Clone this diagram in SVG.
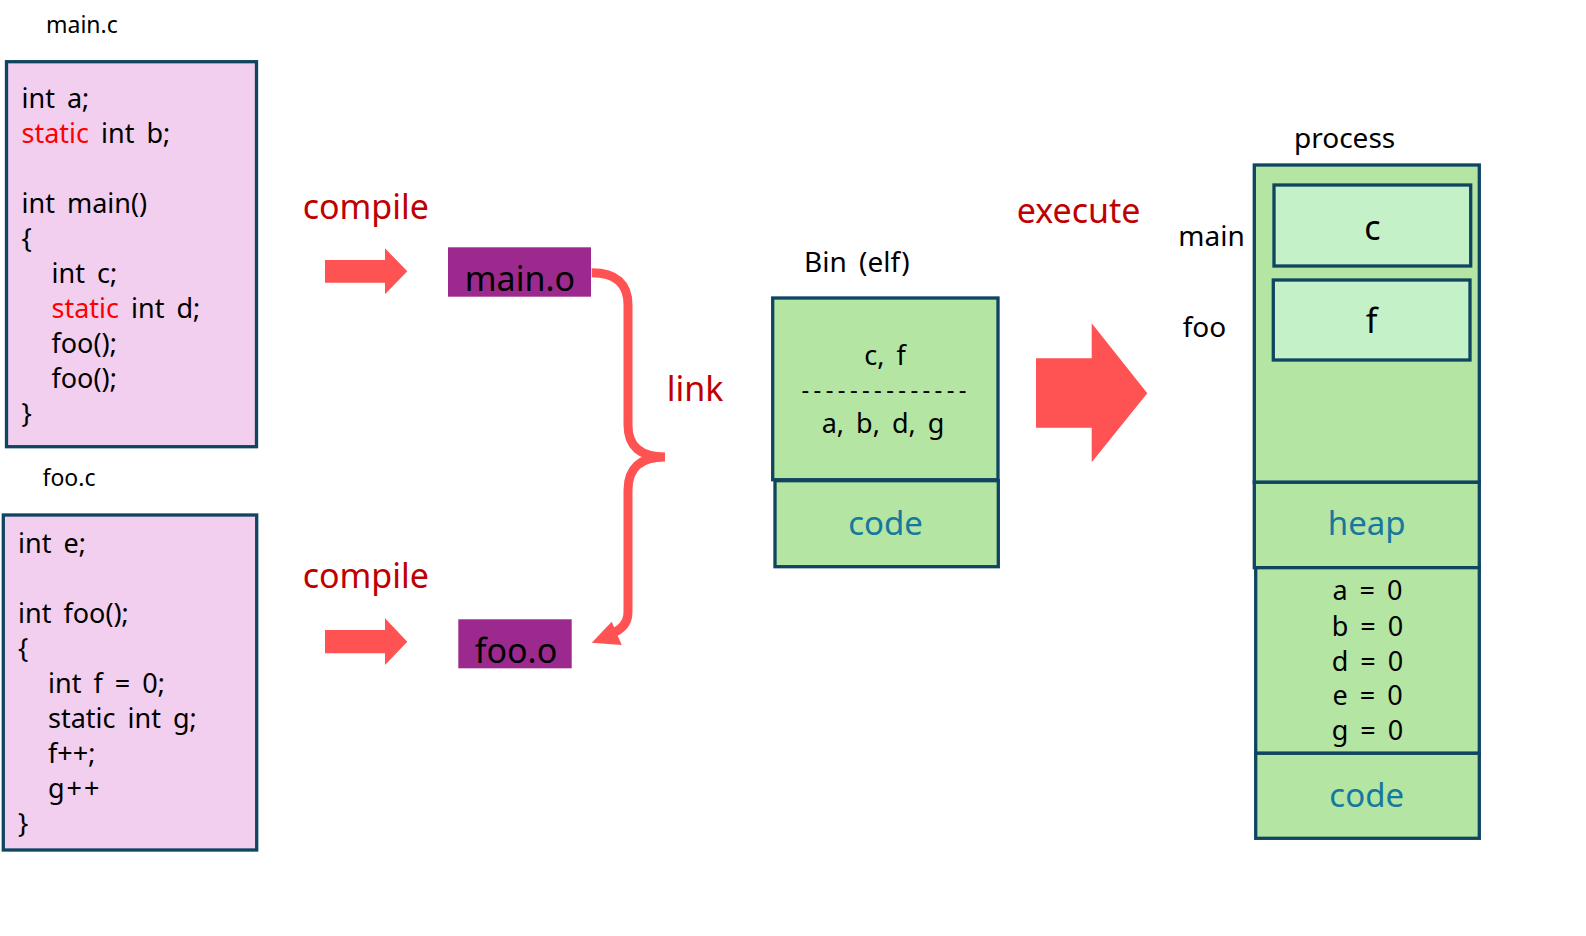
<svg xmlns="http://www.w3.org/2000/svg" width="1586" height="936" viewBox="0 0 1586 936">
<style>
text { font-family: "Noto Sans", "Liberation Sans", sans-serif; fill: #000; }
.lbl { font-size: 23px; }
.big { font-size: 28px; word-spacing: 5px; }
.code { font-size: 27px; word-spacing: 5px; }
.kw { fill: #ff0000; }
.red { fill: #c00000; font-size: 34px; }
.obj { font-size: 34px; }
.mid { text-anchor: middle; }
.blue { fill: #16789e; font-size: 33px; }
.src { fill: #f2cfee; stroke: #0f4560; stroke-width: 3.3; }
.grn { fill: #b5e5a3; stroke: #0f4560; stroke-width: 3.3; }
.lgrn { fill: #c5f1c8; stroke: #0f4560; stroke-width: 3.3; }
.pur { fill: #9c2a8e; }
.arr { fill: #ff5252; }
</style>

<g id="main_c">
  <text class="lbl" x="46" y="33">main.c</text>
  <rect class="src" x="6.5" y="61.7" width="250" height="385"/>
  <text class="code" x="21.5" y="108">int a;</text>
  <text class="code" x="21.5" y="143"><tspan class="kw">static</tspan> int b;</text>
  <text class="code" x="21.5" y="213">int main()</text>
  <text class="code" x="21.5" y="248">{</text>
  <text class="code" x="51.5" y="283">int c;</text>
  <text class="code" x="51.5" y="318"><tspan class="kw">static</tspan> int d;</text>
  <text class="code" x="51.5" y="353">foo();</text>
  <text class="code" x="51.5" y="388">foo();</text>
  <text class="code" x="21.5" y="423">}</text>
</g>

<g id="foo_c">
  <text class="lbl" x="42.5" y="486">foo.c</text>
  <rect class="src" x="3.3" y="515" width="253.4" height="335"/>
  <text class="code" x="18" y="553">int e;</text>
  <text class="code" x="18" y="623">int foo();</text>
  <text class="code" x="18" y="658">{</text>
  <text class="code" x="48" y="693">int f = 0;</text>
  <text class="code" x="48" y="728">static int g;</text>
  <text class="code" x="48" y="763">f++;</text>
  <text class="code" x="48" y="798" letter-spacing="2">g++</text>
  <text class="code" x="18" y="833">}</text>
</g>

<g id="main_o">
  <rect class="pur" x="448" y="247.3" width="143" height="49.4"/>
  <text class="obj mid" x="520" y="290.7">main.o</text>
</g>

<g id="foo_o">
  <rect class="pur" x="458.3" y="619.3" width="113.4" height="49"/>
  <text class="obj mid" x="516" y="663">foo.o</text>
</g>

<g id="bin">
  <text class="big" x="804" y="271.7">Bin (elf)</text>
  <rect class="grn" x="772.7" y="298" width="225.3" height="181.7"/>
  <text class="code mid" x="885" y="365">c, f</text>
  <text class="mid" x="884" y="398" style="font-size:24px" textLength="165" lengthAdjust="spacing">--------------</text>
  <text class="code mid" x="883" y="433">a, b, d, g</text>
  <rect class="grn" x="775" y="480.7" width="223.3" height="86"/>
  <text class="blue mid" x="885.5" y="535">code</text>
</g>

<g id="process">
  <text class="big" x="1294" y="148.3">process</text>
  <text class="big" x="1178.3" y="246">main</text>
  <text class="big" x="1182.7" y="336.7">foo</text>
  <rect class="grn" x="1254.3" y="165" width="225" height="317.3"/>
  <rect class="lgrn" x="1274" y="185" width="196.7" height="81"/>
  <text class="mid" x="1372.3" y="240" style="font-size:34px">c</text>
  <rect class="lgrn" x="1273.3" y="280" width="196.7" height="80"/>
  <text class="mid" x="1371.7" y="333.3" style="font-size:34px">f</text>
  <rect class="grn" x="1254.3" y="482.3" width="225" height="85.4"/>
  <text class="blue mid" x="1366.7" y="535">heap</text>
  <rect class="grn" x="1255.7" y="567.7" width="223.6" height="185.6"/>
  <text class="code mid" x="1367.5" y="600">a = 0</text>
  <text class="code mid" x="1367.5" y="635.5">b = 0</text>
  <text class="code mid" x="1367.5" y="670.5">d = 0</text>
  <text class="code mid" x="1367.5" y="705">e = 0</text>
  <text class="code mid" x="1367.5" y="740">g = 0</text>
  <rect class="grn" x="1255.7" y="753.3" width="223.6" height="85"/>
  <text class="blue mid" x="1366.7" y="806.7">code</text>
</g>

<g id="connectors">
  <text class="red" x="302.7" y="219">compile</text>
  <polygon class="arr" points="325,260 385,260 385,248.3 407.3,271.3 385,294.3 385,282.7 325,282.7"/>
  <text class="red" x="302.7" y="588.3">compile</text>
  <polygon class="arr" points="325,630 385,630 385,618.3 407.3,641.7 385,665 385,653.3 325,653.3"/>
  <path d="M591.7,272.7 Q628,272.7 628,305 L628,425 Q628,457 665,457 Q628,457 628,490 L628,612 Q628,628 610,634" fill="none" stroke="#ff5252" stroke-width="9"/>
  <polygon class="arr" points="591.7,642.7 611.7,621.7 621.7,645"/>
  <text class="red" x="666.7" y="400.7">link</text>
  <text class="red" x="1016.7" y="223.3">execute</text>
  <polygon class="arr" points="1036,358.3 1091.7,358.3 1091.7,323.3 1147.3,393.3 1091.7,462.3 1091.7,427.7 1036,427.7"/>
</g>
</svg>
